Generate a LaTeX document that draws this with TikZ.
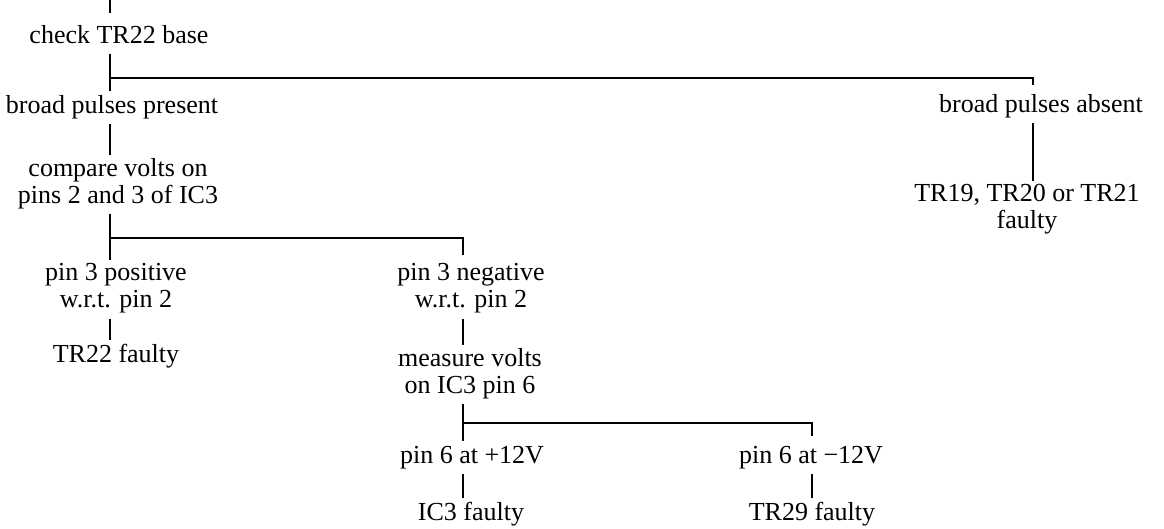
\documentclass[tikz,border=0pt]{standalone}
\usepackage{fontspec}
\setmainfont{Liberation Serif}

\begin{document}
\begin{tikzpicture}[x=0.5pt, y=-0.5pt, line width=0.6pt,
	every node/.style={font=\fontsize{13}{13.5}\selectfont, inner sep=0pt, anchor=north, align=center,
		execute at begin node=\strut, execute at end node=\strut},
	link/.style={shorten <=1pt, shorten >=1.5pt},
	branch/.style={shorten >=4pt}]
	\useasboundingbox (0,0) rectangle (1164,529);
	\node (check) at (119,24) {check TR22 base};
	\node (present) at (112,94) {broad pulses present};
	\node (absent) at (1041,93) {broad pulses absent};
	\node (compare) at (118,158) {compare volts on\\pins 2 and 3 of IC3};
	\node (tr19) at (1027,184) {TR19, TR20 or TR21\\faulty};
	\node (positive) at (116,263) {pin 3 positive\\w.r.t. pin 2};
	\node (negative) at (471,263) {pin 3 negative\\w.r.t. pin 2};
	\node (tr22) at (116,343) {TR22 faulty};
	\node (measure) at (470,348) {measure volts\\on IC3 pin 6};
	\node (plus) at (472,444) {pin 6 at +12V};
	\node (minus) at (811,444) {pin 6 at −12V};
	\node (ic3) at (471,501) {IC3 faulty};
	\node (tr29) at (812,501) {TR29 faulty};
	\coordinate (start) at (110,0);
	\coordinate (jtop) at (110,78);
	\coordinate (jmid) at (110,238);
	\coordinate (jlow) at (463,423);
	\draw[shorten >=5.5pt] (start) -- (check.north -| start);
	\draw[link] (check.south -| jtop) -- (present.north -| jtop);
	\draw[branch] (jtop) -- (1033,78) coordinate (ctop) -- (absent.north -| ctop);
	\draw[link] (absent.south -| ctop) -- (tr19.north -| ctop);
	\draw[link] (present.south -| jmid) -- (compare.north -| jmid);
	\draw[link] (compare.south -| jmid) -- (positive.north -| jmid);
	\draw[branch] (jmid) -| (negative.north -| jlow);
	\draw[link] (positive.south -| jmid) -- (tr22.north -| jmid);
	\draw[link] (negative.south -| jlow) -- (measure.north -| jlow);
	\draw[link] (measure.south -| jlow) -- (plus.north -| jlow);
	\draw[branch] (jlow) -- (812,423) coordinate (clow) -- (minus.north -| clow);
	\draw[link] (plus.south -| jlow) -- (ic3.north -| jlow);
	\draw[link] (minus.south -| clow) -- (tr29.north -| clow);
\end{tikzpicture}
\end{document}
